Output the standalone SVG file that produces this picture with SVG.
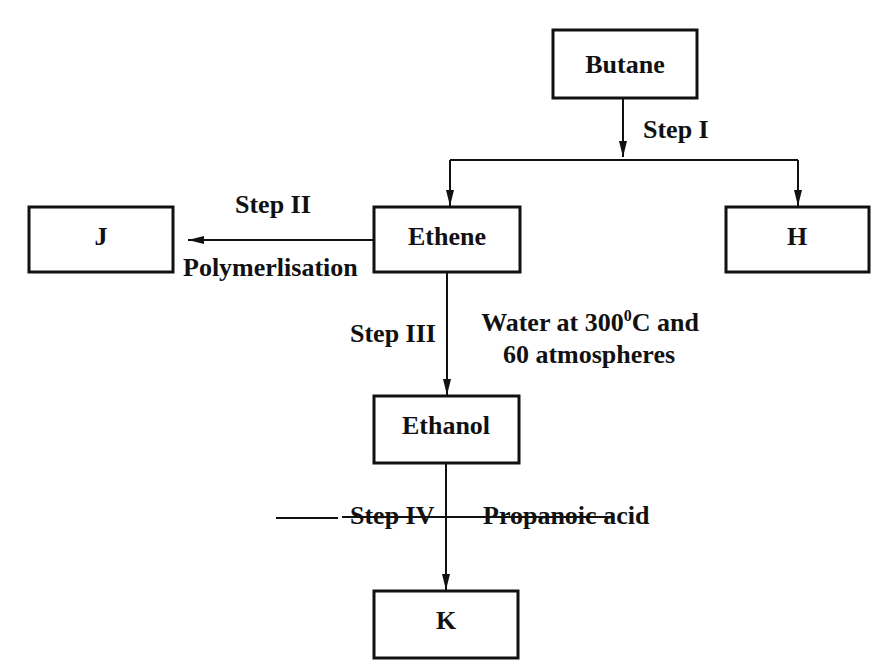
<svg xmlns="http://www.w3.org/2000/svg" width="879" height="664" viewBox="0 0 879 664">
<defs>
<style>
.box{fill:#fff;stroke:#111;stroke-width:3}
.ln{fill:none;stroke:#111;stroke-width:2}
.t{font-family:"Liberation Serif","Times New Roman",serif;font-size:26px;fill:#111;font-weight:bold}
.m{text-anchor:middle}
</style>
<marker id="ah" viewBox="0 0 16 8" refX="16" refY="4" markerWidth="16" markerHeight="8" markerUnits="userSpaceOnUse" orient="auto">
<path d="M0,0 L16,4 L0,8 Z" fill="#111"/>
</marker>
</defs>
<rect width="879" height="664" fill="#fff"/>
<g id="connectors">
<path class="ln" d="M623,98 V157" marker-end="url(#ah)"/>
<path class="ln" d="M450,160 H798"/>
<path class="ln" d="M450,160 V206" marker-end="url(#ah)"/>
<path class="ln" d="M798,160 V206" marker-end="url(#ah)"/>
<path class="ln" d="M374,240 H188" marker-end="url(#ah)"/>
<path class="ln" d="M447,272 V395" marker-end="url(#ah)"/>
<path class="ln" d="M446,463 V590" marker-end="url(#ah)"/>
<path class="ln" d="M276,518 H338 M342,517 H612" stroke-width="1.5"/>
<text class="t" x="643" y="138">Step I</text>
<text class="t" x="235" y="213">Step II</text>
<text class="t" x="183" y="276">Polymerlisation</text>
<text class="t" x="350" y="342">Step III</text>
<text class="t m" x="590" y="331">Water at 300<tspan font-size="16" dy="-10">0</tspan><tspan dy="10">C and</tspan></text>
<text class="t m" x="589" y="363">60 atmospheres</text>
<text class="t" x="350" y="524">Step IV</text>
<text class="t" x="483" y="524">Propanoic acid</text>
</g>
<g id="butane"><rect class="box" x="553" y="30" width="144" height="68"/><text class="t m" x="625" y="73">Butane</text></g>
<g id="ethene"><rect class="box" x="374" y="207" width="146" height="65"/><text class="t m" x="447" y="245">Ethene</text></g>
<g id="j"><rect class="box" x="29" y="207" width="144" height="65"/><text class="t m" x="101" y="245">J</text></g>
<g id="h"><rect class="box" x="726" y="207" width="143" height="65"/><text class="t m" x="797" y="245">H</text></g>
<g id="ethanol"><rect class="box" x="374" y="396" width="145" height="67"/><text class="t m" x="446" y="434">Ethanol</text></g>
<g id="k"><rect class="box" x="374" y="591" width="144" height="67"/><text class="t m" x="446" y="629">K</text></g>
</svg>
